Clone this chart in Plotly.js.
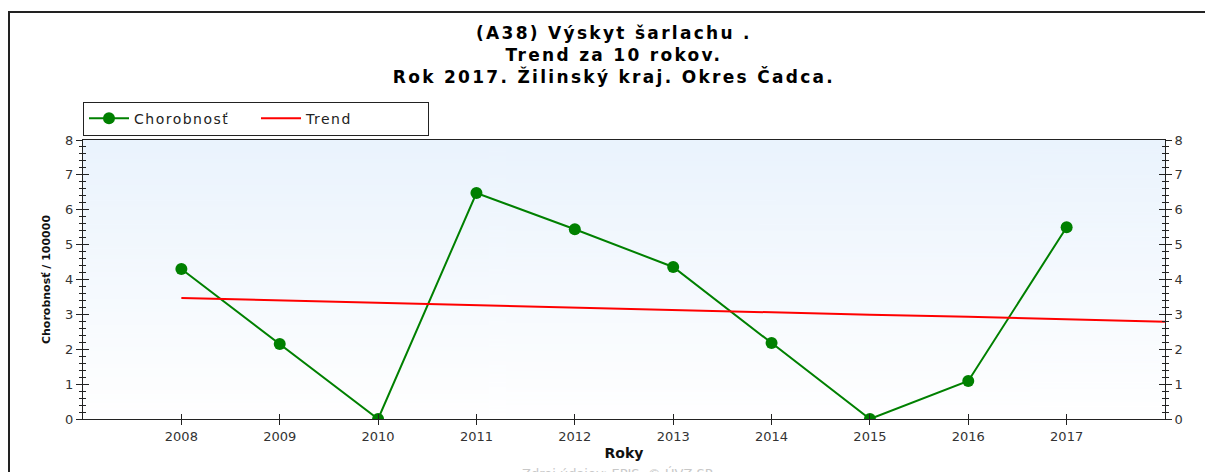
<!DOCTYPE html>
<html>
<head>
<meta charset="utf-8">
<script src="https://cdn.plot.ly/plotly-3.0.1.min.js"></script>
<style>
  body { margin: 0; background: #fff; }
  #frame { position: absolute; left: 8px; top: 11px; width: 1197px; height: 461px;
           border-left: 2px solid #222; border-top: 2px solid #222; }
  #plot { position: absolute; left: 0; top: 0; width: 1205px; height: 472px; }
  /* the reference text is set wide */
  #plot text.gtitle { letter-spacing: 2.3px; }
  #plot text.legendtext { letter-spacing: 1.5px; }
</style>
</head>
<body>
<div id="frame"></div>
<div id="plot"></div>
<script>
// incidence per 100000, district Čadca
const years = [2008, 2009, 2010, 2011, 2012, 2013, 2014, 2015, 2016, 2017];
const rate = [4.30, 2.15, 0, 6.48, 5.44, 4.36, 2.18, 0, 1.09, 5.50];

// trend line (runs past 2017 to the right edge)
const trendYears = [2008, 2009, 2010, 2011, 2012, 2013, 2014, 2015, 2016, 2017, 2018];
const trendVals = [3.47, 3.40, 3.33, 3.27, 3.20, 3.13, 3.06, 2.99, 2.93, 2.86, 2.79];

const yTicks = [0, 1, 2, 3, 4, 5, 6, 7, 8];

// light blue -> white gradient for the plot area
function gradientImage() {
    const c = document.createElement('canvas');
    c.width = 4;
    c.height = 256;
    const ctx = c.getContext('2d');
    const g = ctx.createLinearGradient(0, 0, 0, 256);
    g.addColorStop(0, '#eaf3fd');
    g.addColorStop(1, '#ffffff');
    ctx.fillStyle = g;
    ctx.fillRect(0, 0, 4, 256);
    return c.toDataURL();
}

const green = '#008000';
const FONT = 'DejaVu Sans, Verdana, sans-serif';

const traces = [
    {
        x: years,
        y: rate,
        type: 'scatter',
        mode: 'lines+markers',
        name: 'Chorobnosť',
        line: { color: green, width: 2 },
        marker: { color: green, size: 12, symbol: 'circle' }
    },
    {
        x: trendYears,
        y: trendVals,
        type: 'scatter',
        mode: 'lines',
        name: 'Trend',
        line: { color: '#ff0000', width: 2 }
    }
];

const tickFont = { family: FONT, size: 13, color: '#333' };

function yAxis(side, ticks, labels, overlay) {
    const ax = {
        range: [0, 8],
        tickvals: yTicks,
        side: side,
        ticks: ticks,
        ticklen: 6,
        tickwidth: 1,
        tickcolor: '#222',
        showticklabels: labels,
        tickfont: tickFont,
        showgrid: false,
        zeroline: false,
        showline: true,
        linecolor: '#222',
        linewidth: 1,
        fixedrange: true,
        minor: { dtick: 0.2, ticks: ticks, ticklen: 3, tickcolor: '#222', showgrid: false }
    };
    if (overlay) ax.overlaying = 'y';
    return ax;
}

const layout = {
    width: 1205,
    height: 472,
    paper_bgcolor: 'rgba(0,0,0,0)',
    plot_bgcolor: 'rgba(0,0,0,0)',
    margin: { l: 83, r: 40, t: 140, b: 53 },
    font: { family: FONT, color: '#111' },
    title: {
        text: '<b>(A38) Výskyt šarlachu .<br>Trend za 10 rokov.<br>Rok 2017. Žilinský kraj. Okres Čadca.</b>',
        font: { family: FONT, size: 17, color: '#000' },
        x: 0.5095,
        xanchor: 'center',
        yref: 'container',
        y: 0.917,
        yanchor: 'middle'
    },
    showlegend: true,
    legend: {
        orientation: 'h',
        x: 0,
        xanchor: 'left',
        y: 1.016,
        yanchor: 'bottom',
        bordercolor: '#222',
        borderwidth: 1,
        bgcolor: '#fff',
        entrywidth: 117,
        itemwidth: 40,
        font: { family: FONT, size: 14, color: '#222' }
    },
    xaxis: {
        range: [2007, 2018],
        tickvals: years,
        ticks: 'outside',
        ticklen: 5,
        tickcolor: '#222',
        tickfont: tickFont,
        showgrid: false,
        zeroline: false,
        showline: true,
        mirror: true,
        linecolor: '#222',
        linewidth: 1,
        fixedrange: true,
        title: { text: '<b>Roky</b>', font: { family: FONT, size: 14, color: '#111' }, standoff: 5 }
    },
    xaxis2: {
        overlaying: 'x',
        range: [2007, 2018],
        tickvals: years,
        ticks: 'inside',
        ticklen: 5,
        tickcolor: '#222',
        showticklabels: false,
        showgrid: false,
        zeroline: false,
        showline: false,
        fixedrange: true
    },
    yaxis: Object.assign(yAxis('left', 'outside', true, false), {
        title: { text: '<b>Chorobnosť / 100000</b>', font: { family: FONT, size: 11, color: '#111' }, standoff: 12 }
    }),
    yaxis2: yAxis('right', 'outside', true, true),
    yaxis3: yAxis('left', 'inside', false, true),
    yaxis4: yAxis('right', 'inside', false, true),
    images: [{
        source: gradientImage(),
        xref: 'paper', yref: 'paper',
        x: 0, y: 1, sizex: 1, sizey: 1,
        xanchor: 'left', yanchor: 'top',
        sizing: 'stretch',
        layer: 'below'
    }],
    annotations: [{
        text: 'Zdroj údajov: EPIS, © ÚVZ SR',
        xref: 'paper', yref: 'paper',
        x: 0.494, y: -0.163,
        xanchor: 'center', yanchor: 'top',
        showarrow: false,
        font: { family: FONT, size: 13, color: '#c8c8c8' }
    }]
};

// invisible points so the overlay axes (crossing ticks) get drawn
['y2', 'y3', 'y4'].forEach(function (ya) {
    traces.push({ x: [2007], y: [0], xaxis: 'x2', yaxis: ya, mode: 'markers',
                  marker: { opacity: 0 }, showlegend: false, hoverinfo: 'skip' });
});

Plotly.newPlot('plot', traces, layout, { displayModeBar: false, staticPlot: true });
</script>
</body>
</html>
